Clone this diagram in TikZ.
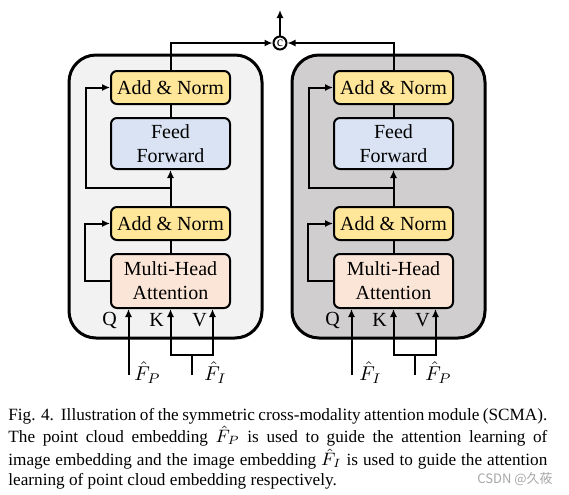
\documentclass[tikz,border=0pt]{standalone}
\usepackage{fontspec}
\setmainfont{Liberation Serif}
\newfontfamily\cjk{Noto Sans CJK SC}
\usetikzlibrary{positioning,arrows.meta}

\definecolor{boxL}{RGB}{242,242,242}
\definecolor{boxR}{RGB}{208,206,206}
\definecolor{anfill}{RGB}{255,230,153}
\definecolor{fffill}{RGB}{218,227,243}
\definecolor{mhafill}{RGB}{251,229,214}

\tikzset{
  blk/.style={draw,line width=1pt,rounded corners=3pt,minimum width=59.5pt,
    inner sep=0pt,align=center,font=\fontsize{10}{12}\selectfont},
  addnorm/.style={blk,fill=anfill,minimum height=16.5pt},
  ffbox/.style={blk,fill=fffill,minimum height=25.5pt},
  mhabox/.style={blk,fill=mhafill,minimum height=27pt},
  conn/.style={line width=1pt},
  arr/.style={conn,-{Latex[length=4pt,width=3.6pt]}},
  lbl/.style={inner sep=0pt,font=\fontsize{10}{12}\selectfont}
}

\begin{document}
\begin{tikzpicture}[x=0.5pt,y=-0.5pt]
  \useasboundingbox (0,0) rectangle (569,494);

  % one encoder block per modality
  \foreach \s/\dx/\bg/\fa/\fb in {L/0/boxL/P/I,R/223/boxR/I/P}{
    \draw[line width=1.5pt,fill=\bg,rounded corners=13.5pt]
      (69+\dx,55) rectangle (262+\dx,338);

    \node[mhabox] (mha\s) at (170.5+\dx,281) {Multi-Head\\Attention};
    \node[addnorm] (an1\s) [above=6pt of mha\s] {Add \& Norm};
    \node[ffbox] (ff\s) [above=18pt of an1\s] {Feed\\Forward};
    \node[addnorm] (an2\s) [above=6pt of ff\s] {Add \& Norm};

    \draw[conn] (mha\s) -- (an1\s);
    \draw[arr] (an1\s) -- (ff\s);
    \draw[conn] (ff\s) -- (an2\s);
    \path (an1\s.north) -- (ff\s.south) coordinate[pos=0.5] (br\s);

    % residual paths
    \draw[arr] (mha\s.west) -- ++(-25,0) |- (an1\s.west);
    \draw[arr] (br\s) -- ++(-84.5,0) |- (an2\s.west);

    % query, key and value inputs
    \coordinate (inq\s) at (128.5+\dx,375);
    \coordinate (inkv\s) at (191.5+\dx,375);
    \coordinate (jn\s) at (191.5+\dx,355);
    \draw[arr] (inq\s) -- (inq\s |- mha\s.south);
    \draw[conn] (inkv\s) -- (jn\s);
    \draw[arr] (jn\s) -| (mha\s.south);
    \draw[arr] (jn\s) -| ([xshift=21pt]mha\s.south);

    \node[lbl] (q\s) at (109.5+\dx,320) {Q};
    \node[lbl] (k\s) at (156.5+\dx,320) {K};
    \node[lbl] (v\s) at (199.5+\dx,320) {V};
    \node[lbl] (fq\s) at (147.5+\dx,373) {$\hat{F}_\fa$};
    \node[lbl] (fkv\s) at (215.5+\dx,373) {$\hat{F}_\fb$};
  }

  % concatenation of both outputs
  \node[draw,circle,line width=1pt,fill=white,minimum size=6.5pt,inner sep=0pt,
    font=\fontsize{7}{7}\selectfont] (cat) at (280,43) {c};
  \coordinate (out) at (280,10);
  \draw[arr] (an2L.north) |- (cat.west);
  \draw[arr] (an2R.north) |- (cat.east);
  \draw[arr] (cat) -- (out);

  % caption
  \node[anchor=base west,inner sep=0pt,align=left,
    font=\fontsize{8.6}{9.65}\selectfont] (cap) at (8,485)
    {\makebox[269.5pt][s]{Fig. 4.\ \ Illustration of the symmetric cross-modality attention module (SCMA).}\\
     \makebox[269.5pt][s]{The point cloud embedding $\hat{F}_P$ is used to guide the attention learning of}\\
     \makebox[269.5pt][s]{image embedding and the image embedding $\hat{F}_I$ is used to guide the attention}\\
     learning of point cloud embedding respectively.};
  \node[anchor=base east,inner sep=0pt,text=gray!70,
    font=\cjk\fontsize{6.5}{6.5}\selectfont] (wm) at (553,483) {CSDN @久莜};
\end{tikzpicture}
\end{document}
